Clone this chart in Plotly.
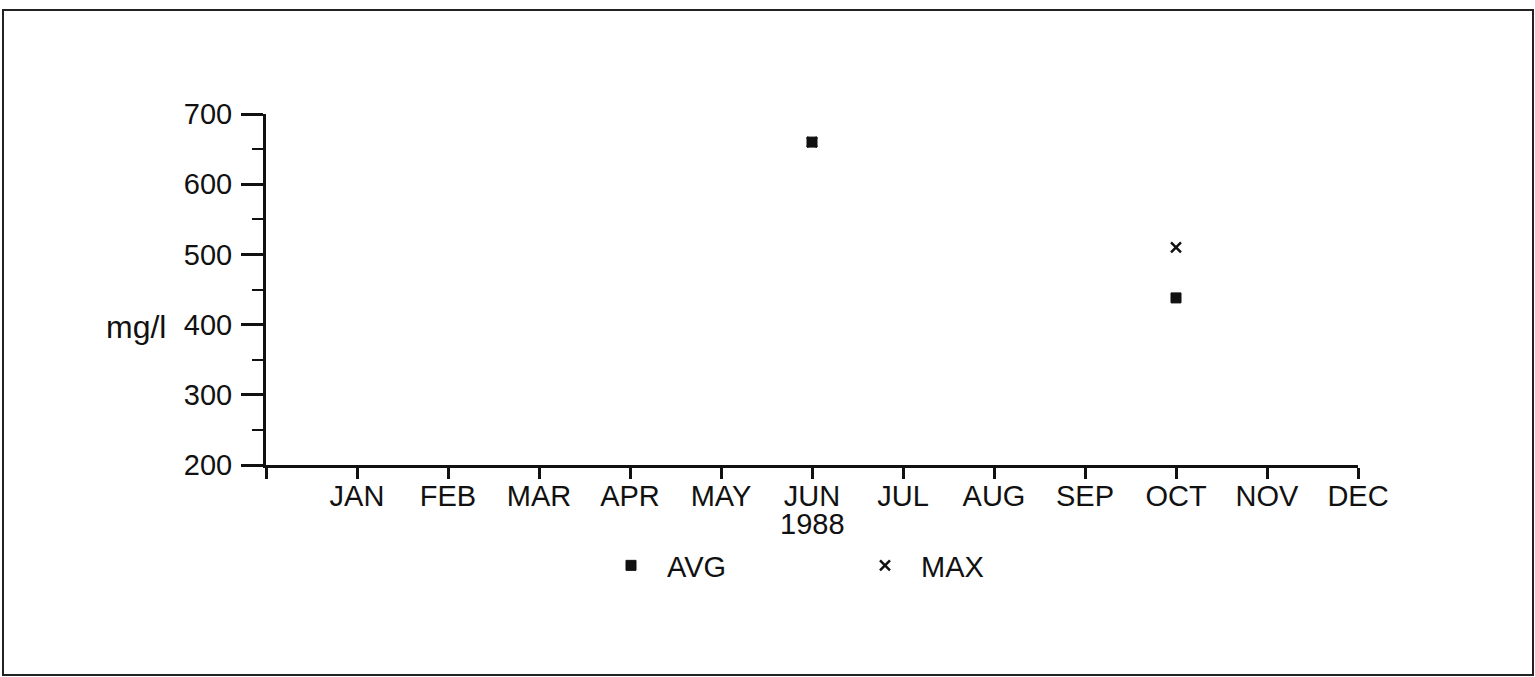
import plotly.graph_objects as go

# Monthly mg/l readings for 1988 (month index 1 = JAN ... 12 = DEC)
months = ["JAN", "FEB", "MAR", "APR", "MAY", "JUN", "JUL", "AUG", "SEP", "OCT", "NOV", "DEC"]
avg_month = [6, 10]
avg_vals = [660, 438]
max_month = [6, 10]
max_vals = [660, 510]
y_ticks = [200, 300, 400, 500, 600, 700]

W, H = 1535, 677
L, R, T, B = 266, 1358, 114, 465  # plot-area pixel edges
pw, ph = R - L, B - T
FONT = "Liberation Sans, Arial, Helvetica, sans-serif"
FS = 29

def px_x(px):
    return (px - L) / pw

def px_y(py):
    return (B - py) / ph

fig = go.Figure()
fig.add_trace(go.Scatter(
    x=avg_month, y=avg_vals, mode="markers", name="AVG",
    marker=dict(symbol="square", size=10, color="#111111",
                line=dict(width=1, color="#111111")),
))
fig.add_trace(go.Scatter(
    x=max_month, y=max_vals, mode="markers", name="MAX",
    marker=dict(symbol="x-thin-open", size=10, color="#111111",
                line=dict(width=2.5, color="#111111")),
))

fig.update_layout(
    width=W, height=H,
    margin=dict(l=L, r=W - R, t=T, b=H - B, pad=0),
    paper_bgcolor="white", plot_bgcolor="white",
    font=dict(family=FONT, size=FS, color="#111111"),
    showlegend=True,
    legend=dict(
        orientation="h", x=px_x(595), y=px_y(540), xanchor="left", yanchor="top",
        entrywidth=177, entrywidthmode="pixels", itemwidth=62,
        font=dict(size=FS, family=FONT, color="#111111"),
        bgcolor="rgba(0,0,0,0)", traceorder="normal",
    ),
    xaxis=dict(
        range=[0, 12], tickmode="array",
        tickvals=list(range(0, 13)), ticktext=[""] + months,
        showgrid=False, zeroline=False, showline=True,
        linecolor="#111111", linewidth=3,
        ticks="outside", ticklen=11, tickwidth=2.5, tickcolor="#111111",
        ticklabelstandoff=-8,
        tickfont=dict(size=FS, family=FONT, color="#111111"),
        fixedrange=True,
    ),
    yaxis=dict(
        range=[200, 700], tickmode="array", tickvals=y_ticks,
        showgrid=False, zeroline=False, showline=True,
        linecolor="#111111", linewidth=3,
        ticks="outside", ticklen=22, tickwidth=2.5, tickcolor="#111111",
        minor=dict(dtick=50, tick0=200, ticks="outside", ticklen=11,
                   tickwidth=2, tickcolor="#111111", showgrid=False),
        ticklabelstandoff=3,
        tickfont=dict(size=FS, family=FONT, color="#111111"),
        fixedrange=True,
    ),
    annotations=[
        dict(text="1988", x=6, xref="x", y=px_y(524), yref="paper",
             showarrow=False, xanchor="center", yanchor="middle",
             font=dict(size=FS, family=FONT, color="#111111")),
        dict(text="mg/l", x=px_x(168), xref="paper", y=px_y(327), yref="paper",
             showarrow=False, xanchor="right", yanchor="middle",
             font=dict(size=32, family=FONT, color="#111111")),
    ],
    shapes=[
        dict(type="rect", xref="paper", yref="paper",
             x0=px_x(3), x1=px_x(1533), y0=px_y(675), y1=px_y(10),
             line=dict(color="#222222", width=2), fillcolor="rgba(0,0,0,0)",
             layer="below"),
    ],
)

fig.write_html("out.html", config={"displayModeBar": False})
